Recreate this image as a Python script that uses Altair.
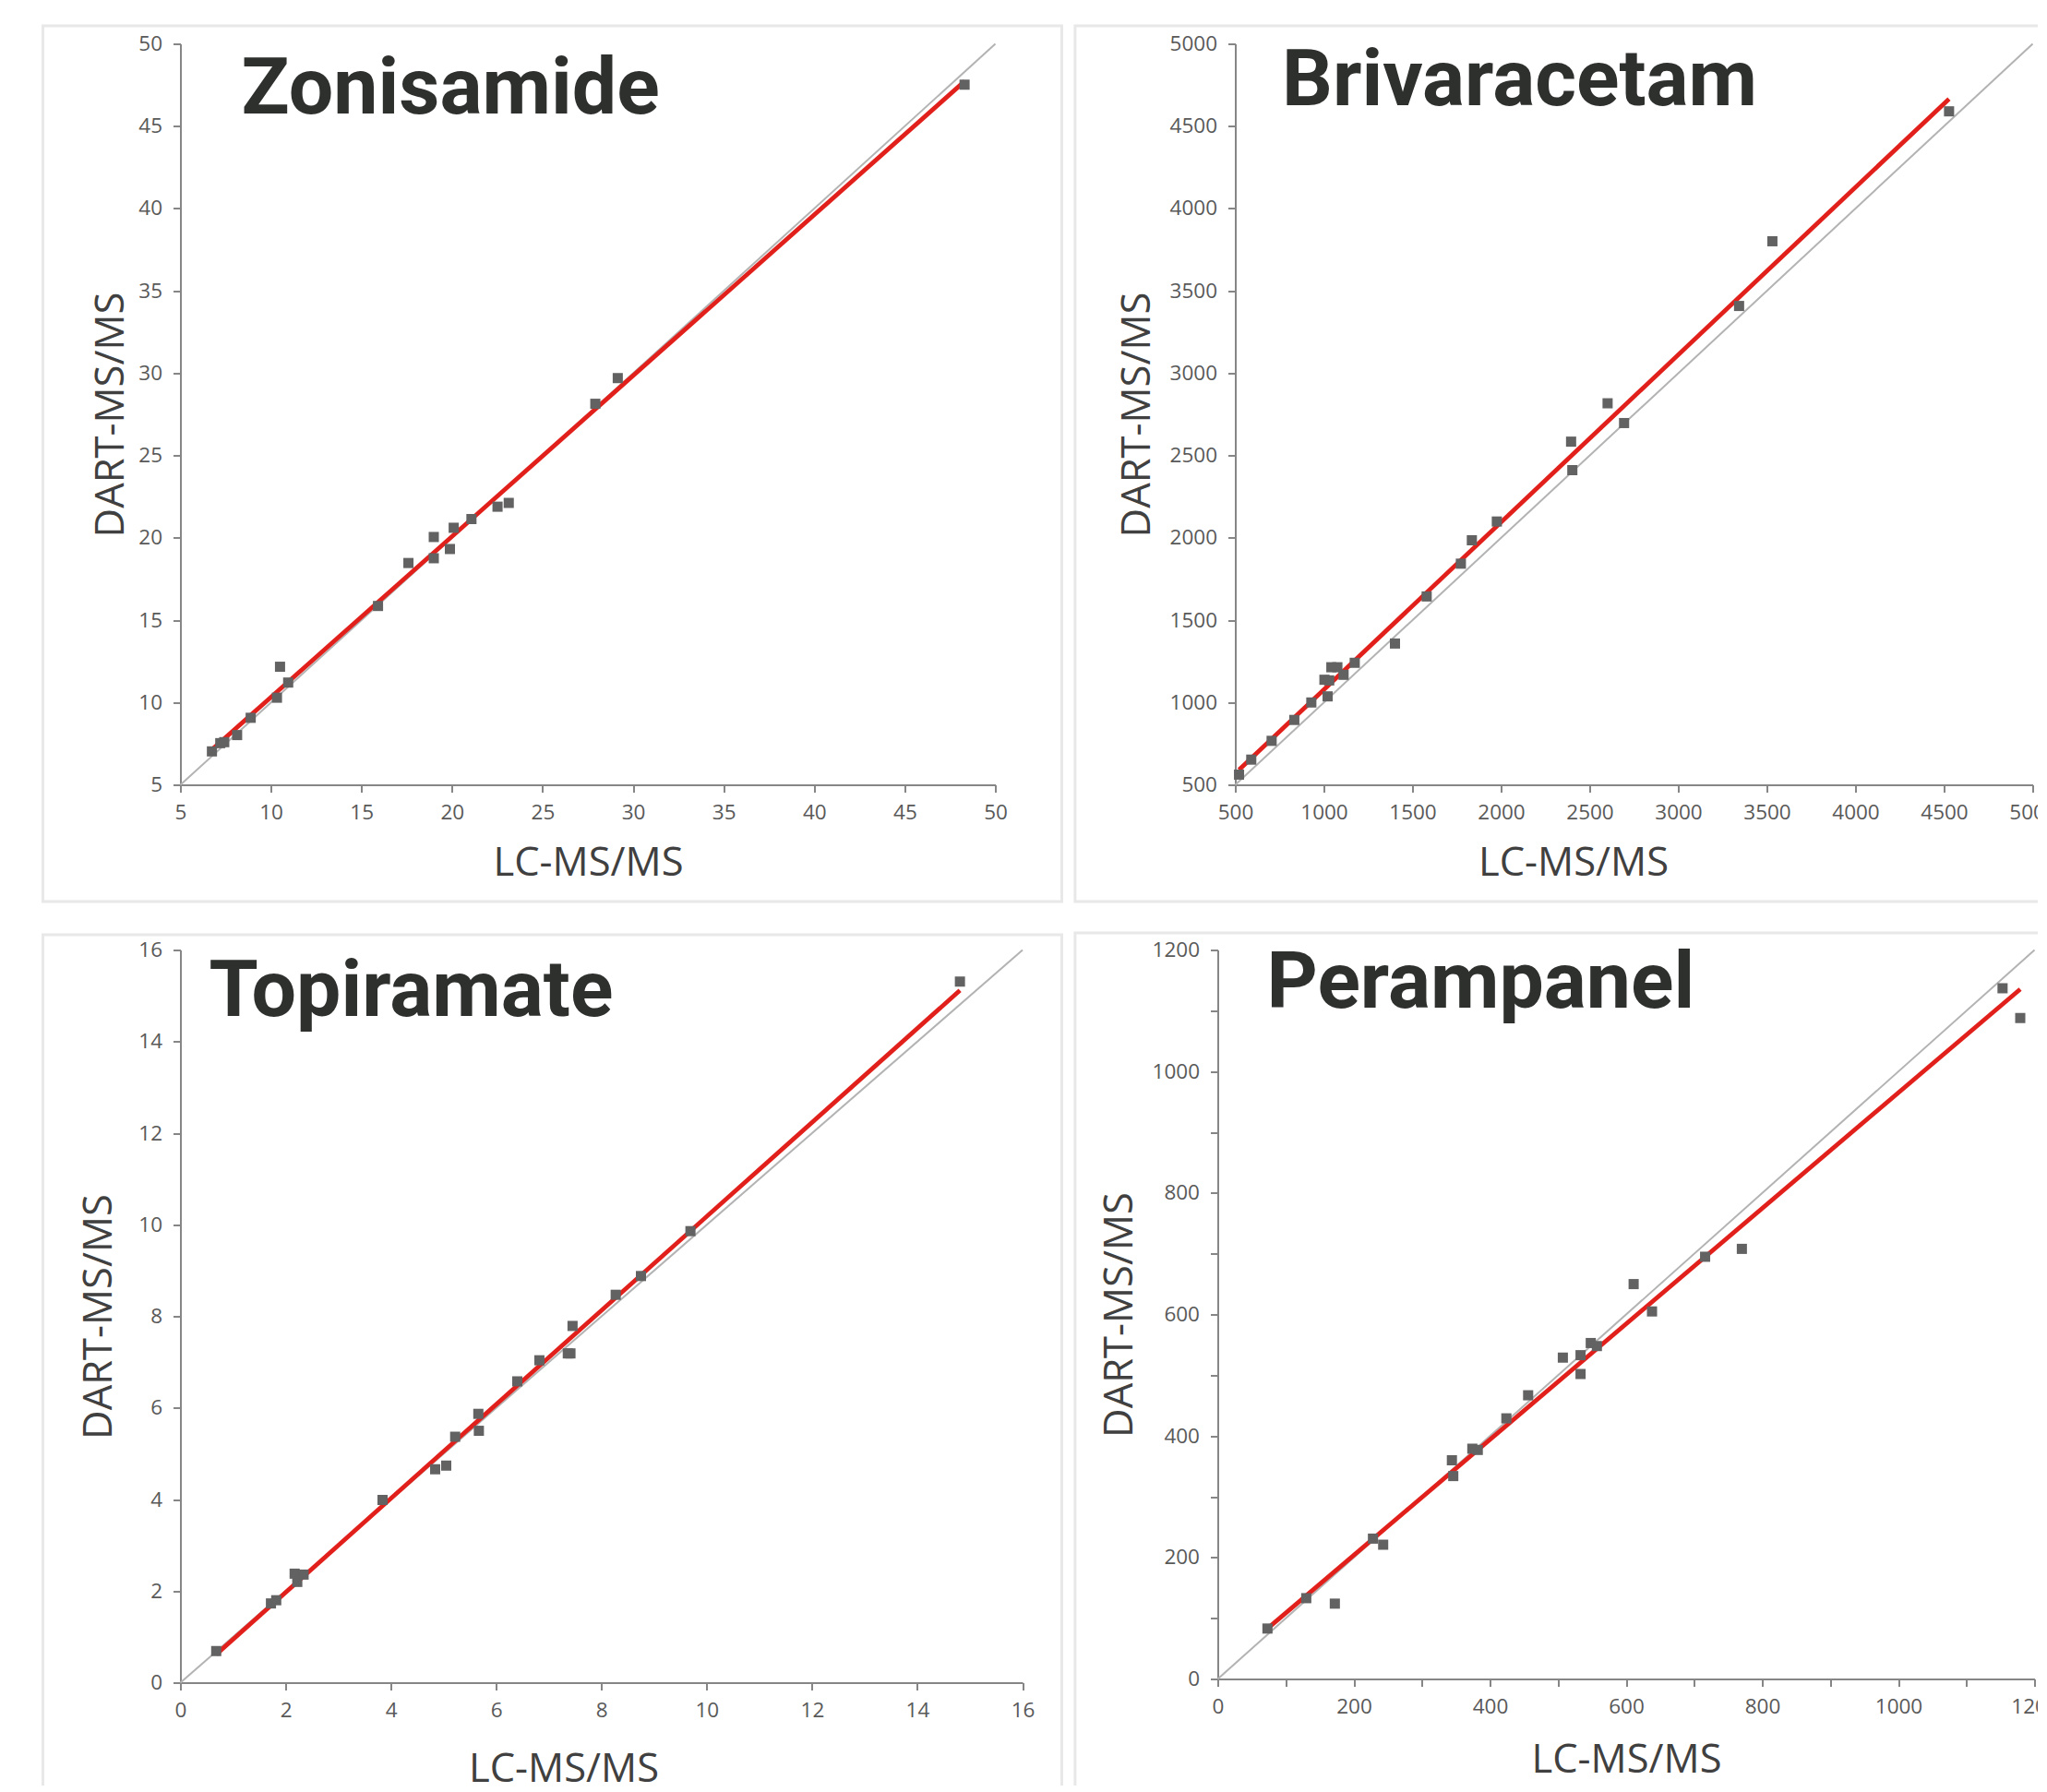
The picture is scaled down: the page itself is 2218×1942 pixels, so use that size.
import altair as alt
import pandas as pd

# ---------------- data ----------------
names = ["Zonisamide", "Brivaracetam", "Topiramate", "Perampanel"]
x_title = "LC-MS/MS"
y_title = "DART-MS/MS"

zon_lc = [6.74, 7.20, 7.42, 8.13, 8.88, 10.33, 10.50, 10.95, 15.91, 17.59,
          18.99, 18.99, 19.88, 20.09, 21.07, 22.51, 23.13, 27.91, 29.15, 48.30]
zon_dart = [7.03, 7.53, 7.59, 8.02, 9.07, 10.29, 12.17, 11.21, 15.86, 18.47,
            20.05, 18.76, 19.32, 20.61, 21.14, 21.89, 22.12, 28.14, 29.70, 47.52]

bri_lc = [521, 590, 705, 833, 929, 1003, 1030, 1021, 1042, 1076, 1111, 1174,
          1401, 1580, 1773, 1835, 1976, 2395, 2402, 2601, 2694, 3343, 3531, 4528]
bri_dart = [562, 653, 767, 894, 1000, 1138, 1134, 1037, 1214, 1214, 1168, 1241,
            1358, 1644, 1843, 1985, 2099, 2584, 2411, 2817, 2697, 3408, 3801, 4590]

top_lc = [0.68, 1.72, 1.82, 2.17, 2.22, 2.34, 3.84, 4.84, 5.05, 5.22, 5.66,
          5.67, 6.40, 6.82, 7.36, 7.41, 7.45, 8.27, 8.75, 9.69, 14.81]
top_dart = [0.69, 1.73, 1.80, 2.38, 2.20, 2.36, 3.99, 4.66, 4.74, 5.37, 5.87,
            5.50, 6.58, 7.04, 7.19, 7.19, 7.79, 8.47, 8.88, 9.86, 15.31]

per_lc = [73, 130, 172, 228, 243, 344, 346, 374, 382, 424, 456, 507, 533, 533,
          548, 557, 611, 638, 716, 770, 1153, 1179]
per_dart = [83, 133, 124, 231, 221, 360, 334, 379, 377, 429, 467, 529, 533, 502,
            553, 548, 650, 605, 695, 708, 1137, 1088]

domains = [[5, 50], [500, 5000], [0, 16], [0, 1200]]
tick_steps = [5, 500, 2, 100]
label_steps = [5, 500, 2, 200]

# ---------------- styling ----------------
LABEL_FONT = "Open Sans"
TITLE_FONT = "Roboto"
AXIS_GRAY = "#868686"
POINT_COLOR = "#626262"
RED = "#e2201b"
DIAG = "#b3b3b3"
BORDER = "#e8e8e8"


def make_panel(name, lc, dart, dom, tick_step, label_step, W, H, box, title_xy,
               x_pad, y_pad, x_title_x=None):
    pts = pd.DataFrame({"lc": lc, "dart": dart})
    diag = pd.DataFrame({"lc": dom, "dart": dom})
    ttl = pd.DataFrame({"name": [name]})
    ticks = list(range(dom[0], dom[1] + tick_step, tick_step))
    label_expr = f"datum.value % {label_step} === 0 ? datum.label : ''"
    common = dict(
        values=ticks, labelExpr=label_expr, format="d", grid=False,
        domainColor=AXIS_GRAY, domainWidth=2, tickColor=AXIS_GRAY, tickWidth=2,
        tickSize=8, labelFont=LABEL_FONT, labelFontSize=22.5, labelColor="#595959",
        titleFont=LABEL_FONT, titleFontSize=43.5, titleFontWeight="normal",
        titleColor="#404040", labelFlush=False, labelOverlap=False,
    )
    x_extra = {}
    if x_title_x is not None:
        x_extra["titleX"] = x_title_x
    scale = alt.Scale(domain=dom, nice=False, zero=False)
    xenc = alt.X("lc:Q", scale=scale,
                 axis=alt.Axis(title=x_title, labelPadding=11, titlePadding=x_pad,
                               **x_extra, **common))
    yenc = alt.Y("dart:Q", scale=scale,
                 axis=alt.Axis(title=y_title, labelPadding=12, titlePadding=y_pad, **common))
    L, T, R, B = box
    border = alt.Chart(ttl).mark_rect(filled=False, stroke=BORDER, strokeWidth=3).encode(
        x=alt.value(-L), x2=alt.value(W + R), y=alt.value(-T), y2=alt.value(H + B))
    diag_line = alt.Chart(diag).mark_line(color=DIAG, strokeWidth=2).encode(x=xenc, y=yenc)
    reg = alt.Chart(pts).transform_regression("lc", "dart").mark_line(
        color=RED, strokeWidth=4.8).encode(x=xenc, y=yenc)
    dots = alt.Chart(pts).mark_square(size=121, color=POINT_COLOR, opacity=1).encode(
        x=xenc, y=yenc)
    title = alt.Chart(ttl).mark_text(
        font=TITLE_FONT, fontSize=86, fontWeight="bold", color="#2e302e",
        align="left", baseline="alphabetic").encode(
        x=alt.value(title_xy[0]), y=alt.value(title_xy[1]), text="name:N")
    return alt.layer(border, diag_line, reg, dots, title).properties(width=W, height=H)


# left column panels share the same plot origin (the rows are origin-aligned)
p1 = make_panel(names[0], zon_lc, zon_dart, domains[0], tick_steps[0], label_steps[0],
                883, 803, (149, 19.4, 72, 126.5), (66, 75), 22, 7)
p2 = make_panel(names[1], bri_lc, bri_dart, domains[1], tick_steps[1], label_steps[1],
                864, 803, (173.6, 19.4, 40, 126.5), (50.5, 66), 22, 13, 366)
p3 = make_panel(names[2], top_lc, top_dart, domains[2], tick_steps[2], label_steps[2],
                912.5, 794, (149, 16.6, 42.5, 138), (31, 71.5), 31, 20, 415)
p4 = make_panel(names[3], per_lc, per_dart, domains[3], tick_steps[3], label_steps[3],
                885, 790, (154.6, 18.5, 38, 140), (53, 62), 25, 13)

row1 = alt.hconcat(p1, p2, spacing=10)
row2 = alt.hconcat(p3, p4, spacing=10)
chart = alt.vconcat(row1, row2, spacing=31).properties(
    # negative right/bottom padding crops the figure at the window edges, as in the reference
    padding={"left": 36.5, "top": 18.5, "right": -37, "bottom": -28.5},
    background="white",
).configure_view(strokeWidth=0)

chart.save("out.html", embed_options={"renderer": "svg", "actions": False})
